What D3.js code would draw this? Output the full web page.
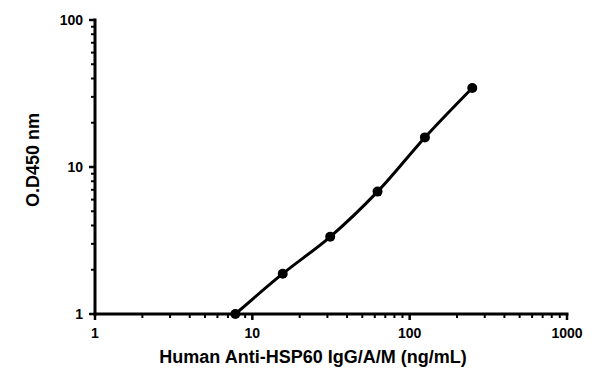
<!DOCTYPE html>
<html>
<head>
<meta charset="utf-8">
<script src="https://cdnjs.cloudflare.com/ajax/libs/d3/7.8.5/d3.min.js"></script>
<style>
  body { margin: 0; background: #fff; }
  text { font-family: "Liberation Sans", Arial, sans-serif; font-weight: bold; }
</style>
</head>
<body>
<div id="chart"></div>
<script>
// data
var conc = [7.8, 15.6, 31.25, 62.5, 125, 250];
var od = [1.0, 1.88, 3.35, 6.8, 15.9, 34.5];
var xTicks = [1, 10, 100, 1000];
var yTicks = [1, 10, 100];
var xTitle = "Human Anti-HSP60 IgG/A/M (ng/mL)";
var yTitle = "O.D450 nm";

var W = 600, H = 383;
var margin = {left: 95, top: 20, right: 33, bottom: 69};

var svg = d3.select("#chart").append("svg")
  .attr("width", W)
  .attr("height", H);

var x = d3.scaleLog().domain([1, 1000]).range([margin.left, W - margin.right]);
var y = d3.scaleLog().domain([1, 100]).range([H - margin.bottom, margin.top]);

// minor ticks
var minorX = [], minorY = [];
[1, 10, 100].forEach(function(d){
  for (var k = 2; k <= 9; k++) minorX.push(d*k);
});
[1, 10].forEach(function(d){
  for (var k = 2; k <= 9; k++) minorY.push(d*k);
});

var gx = svg.append("g").attr("transform", "translate(0," + y(1) + ")");
gx.append("line").attr("x1", x(1) - 1.5).attr("x2", x(1000) + 1.5)
  .attr("stroke", "#000").attr("stroke-width", 3);
gx.selectAll(".minor").data(minorX).enter().append("line")
  .attr("x1", function(d){ return x(d); }).attr("x2", function(d){ return x(d); })
  .attr("y1", 0).attr("y2", 4)
  .attr("stroke", "#000").attr("stroke-width", 2);
gx.selectAll(".major").data(xTicks).enter().append("line")
  .attr("x1", function(d){ return x(d); }).attr("x2", function(d){ return x(d); })
  .attr("y1", 0).attr("y2", 6)
  .attr("stroke", "#000").attr("stroke-width", 2.5);
gx.selectAll("text").data(xTicks).enter().append("text")
  .attr("x", function(d){ return x(d); })
  .attr("y", 24)
  .attr("text-anchor", "middle")
  .attr("font-size", "14px")
  .text(function(d){ return d; });

var gy = svg.append("g").attr("transform", "translate(" + x(1) + ",0)");
gy.append("line").attr("y1", y(1) + 1.5).attr("y2", y(100) - 1.5)
  .attr("stroke", "#000").attr("stroke-width", 3);
gy.selectAll(".minor").data(minorY).enter().append("line")
  .attr("y1", function(d){ return y(d); }).attr("y2", function(d){ return y(d); })
  .attr("x1", 0).attr("x2", -4)
  .attr("stroke", "#000").attr("stroke-width", 2);
gy.selectAll(".major").data(yTicks).enter().append("line")
  .attr("y1", function(d){ return y(d); }).attr("y2", function(d){ return y(d); })
  .attr("x1", 0).attr("x2", -6)
  .attr("stroke", "#000").attr("stroke-width", 2.5);
gy.selectAll("text").data(yTicks).enter().append("text")
  .attr("x", -12)
  .attr("y", function(d){ return y(d) + 5; })
  .attr("text-anchor", "end")
  .attr("font-size", "14px")
  .text(function(d){ return d; });

// titles
svg.append("text")
  .attr("x", 313).attr("y", 363)
  .attr("text-anchor", "middle")
  .attr("font-size", "18px")
  .text(xTitle);
svg.append("text")
  .attr("transform", "translate(39,160) rotate(-90)")
  .attr("text-anchor", "middle")
  .attr("font-size", "18px")
  .text(yTitle);

// curve
var pts = conc.map(function(c, i){ return [c, od[i]]; });
var line = d3.line()
  .x(function(d){ return x(d[0]); })
  .y(function(d){ return y(d[1]); })
  .curve(d3.curveCatmullRom);
svg.append("path").datum(pts)
  .attr("d", line)
  .attr("fill", "none")
  .attr("stroke", "#000")
  .attr("stroke-width", 3);
svg.selectAll(".pt").data(pts).enter().append("circle")
  .attr("cx", function(d){ return x(d[0]); })
  .attr("cy", function(d){ return y(d[1]); })
  .attr("r", 5)
  .attr("fill", "#000");
</script>
</body>
</html>
